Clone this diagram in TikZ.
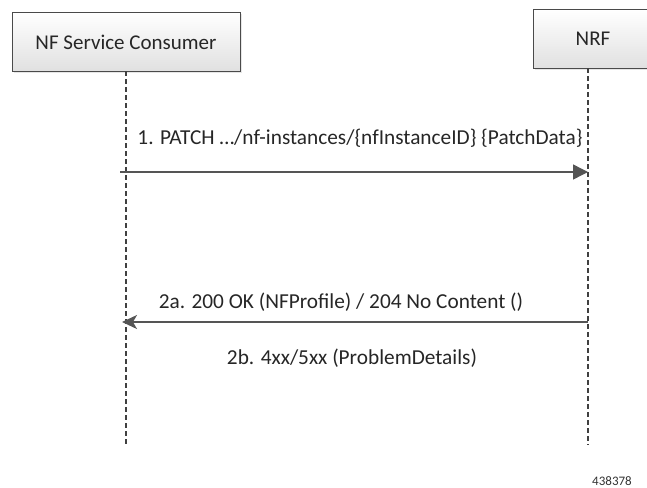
\documentclass[tikz,border=0pt]{standalone}
\usepackage{fontspec}
\setmainfont{Carlito}
\usetikzlibrary{arrows.meta,shadows}
\definecolor{linegray}{HTML}{555555}
\definecolor{boxborder}{HTML}{4A4A4A}
\tikzset{
  actor/.style={draw=boxborder, line width=1pt, top color=white, bottom color=black!12,
    minimum height=58pt, inner sep=0pt, font=\fontsize{21}{24}\selectfont, text=black!85,
    drop shadow={shadow xshift=1.5pt, shadow yshift=-1.5pt, opacity=0.2}},
  lifeline/.style={draw=black!75, line width=1.1pt, dash pattern=on 5pt off 3pt},
  msg/.style={draw=linegray, line width=1.4pt, -{Triangle[length=15pt,width=15pt]}},
  msgback/.style={draw=linegray, line width=1.4pt, -{Stealth[length=15pt,width=14pt,inset=4pt]}},
  lbl/.style={font=\fontsize{21.3}{24}\selectfont, text=black!85, inner sep=0pt, anchor=base},
  tag/.style={font=\fontsize{13}{15}\selectfont, text=black!80, inner sep=0pt, anchor=base}
}
\begin{document}
\begin{tikzpicture}[x=1pt,y=-1pt]
\useasboundingbox (0,0) rectangle (647,487);
\clip (0,0) rectangle (647,487);
\node[actor, minimum width=228pt] (cons) at (126,42) {NF Service Consumer};
\node[actor, minimum width=120pt] (nrf) at (593,39) {NRF};
\coordinate (cTop) at (126,71);
\coordinate (cBot) at (126,445);
\coordinate (nTop) at (588,68);
\coordinate (nBot) at (588,445);
\draw[lifeline] (cTop) -- (cBot);
\draw[lifeline] (nTop) -- (nBot);
\coordinate (m1s) at (120,172);
\coordinate (m1e) at (588,172);
\coordinate (m2s) at (588,322);
\coordinate (m2e) at (122,322);
\draw[msg] (m1s) -- (m1e);
\draw[msgback] (m2s) -- (m2e);
\node[lbl] (t1) at (360,144) {1. PATCH …/nf-instances/\{nfInstanceID\} \{PatchData\}};
\node[lbl] (t2a) at (341,308) {2a. 200 OK (NFProfile) / 204 No Content ()};
\node[lbl] (t2b) at (352,364) {2b. 4xx/5xx (ProblemDetails)};
\node[tag] (id) at (612,485) {438378};
\end{tikzpicture}
\end{document}
